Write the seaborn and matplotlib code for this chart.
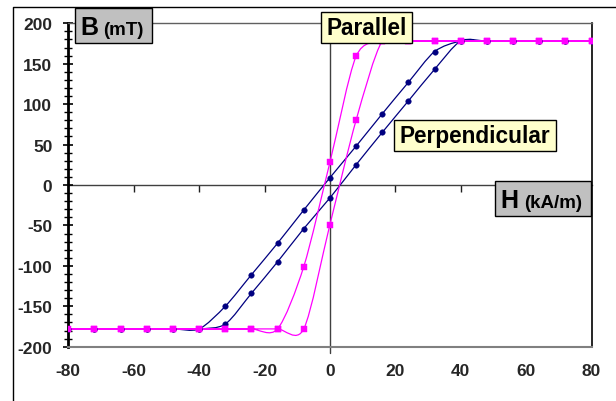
import numpy as np
import pandas as pd
import matplotlib
matplotlib.use("Agg")
import matplotlib.pyplot as plt
import seaborn as sns
from matplotlib.path import Path
from matplotlib.patches import PathPatch, Rectangle
from matplotlib.lines import Line2D
from matplotlib.ticker import MultipleLocator

# ---- data ----
H = list(range(-80, 81, 8))
perp_up = [-178, -178, -178, -178, -178, -178, -172, -134, -95, -54, -16,
           25, 65, 104, 143, 178, 178, 178, 178, 178, 178]
perp_down = [-178, -178, -178, -178, -178, -178, -150, -111, -72, -31, 9,
             48, 88, 127, 165, 178, 178, 178, 178, 178, 178]
par_up = [-178, -178, -178, -178, -178, -178, -178, -178, -178, -178, -49,
          80, 178, 178, 178, 178, 178, 178, 178, 178, 178]
par_down = [-178, -178, -178, -178, -178, -178, -178, -178, -178, -101, 28,
            159, 178, 178, 178, 178, 178, 178, 178, 178, 178]
x_ticks = [-80, -60, -40, -20, 0, 20, 40, 60, 80]
y_ticks = [-200, -150, -100, -50, 0, 50, 100, 150, 200]

NAVY = "#000080"
MAGENTA = "#FF00FF"

sns.set_style("white")
plt.rcParams["font.family"] = ["Liberation Sans", "DejaVu Sans"]
plt.rcParams["font.weight"] = "bold"

W, Hpx = 616, 402
fig = plt.figure(figsize=(W / 100, Hpx / 100), dpi=100)
fig.patch.set_facecolor("white")


def fx(px):
    return px / W


def fy(py):
    return 1 - py / Hpx


ax_l, ax_r, ax_t, ax_b = 68.3, 591.5, 24.3, 347.7
ax = fig.add_axes([fx(ax_l), fy(ax_b), (ax_r - ax_l) / W, (ax_b - ax_t) / Hpx])


def loop_frame(name, up, down):
    xs = H[::-1] + H[1:]
    ys = down[::-1] + up[1:]
    return pd.DataFrame({"H": xs, "B": ys, "series": name})


def smooth_path(xs, ys, k=0.14):
    pts = np.column_stack([xs, ys]).astype(float)
    n = len(pts)
    verts = [pts[0]]
    codes = [Path.MOVETO]
    for i in range(n - 1):
        p0 = pts[i - 1] if i > 0 else pts[i]
        p1 = pts[i]
        p2 = pts[i + 1]
        p3 = pts[i + 2] if i + 2 < n else pts[i + 1]
        c1 = p1 + (p2 - p0) * k
        c2 = p2 - (p3 - p1) * k
        verts += [c1, c2, p2]
        codes += [Path.CURVE4] * 3
    return Path(verts, codes)


perp = loop_frame("Perpendicular", perp_up, perp_down)
par = loop_frame("Parallel", par_up, par_down)

ax.set_xlim(-80, 80)
ax.set_ylim(-200, 200)

# reference line at H = 0
ax.axvline(0, ymin=-0.018, ymax=1, color="#404040", lw=1.0, clip_on=False, zorder=1)

for df, col, mk, s in [(perp, NAVY, "o", 16), (par, MAGENTA, "s", 24)]:
    patch = PathPatch(smooth_path(df["H"], df["B"]), facecolor="none",
                      edgecolor=col, lw=0.9, zorder=2)
    ax.add_patch(patch)
    sns.scatterplot(data=df, x="H", y="B", color=col, marker=mk, s=s,
                    edgecolor=col, linewidth=0.3, ax=ax, zorder=3, legend=False)

ax.set_xlabel("")
ax.set_ylabel("")

# y axis
ax.set_yticks(y_ticks)
ax.set_yticklabels([str(v) for v in y_ticks])
ax.yaxis.set_minor_locator(MultipleLocator(10))
ax.tick_params(axis="y", which="major", direction="inout", length=7, width=1.2,
               color="black", labelsize=12.5, pad=8, left=True)
ax.tick_params(axis="y", which="minor", direction="inout", length=6, width=1.0,
               color="black", left=True)

# x labels at bottom, no ticks there
ax.set_xticks(x_ticks)
ax.set_xticklabels([str(v) for v in x_ticks])
ax.tick_params(axis="x", which="major", length=0, labelsize=12.5, pad=12)

# x axis line at B = 0 with tick marks
sec = ax.secondary_xaxis(0.5)
sec.set_xticks([-60, -40, -20, 20, 40, 60])
sec.tick_params(axis="x", direction="in", length=5, width=1.0, color="#202020",
                labeltop=False, labelbottom=False)
for sp in sec.spines.values():
    sp.set_color("#404040")
    sp.set_linewidth(1.0)

ax.spines["left"].set_color("black")
ax.spines["left"].set_linewidth(2.0)
ax.spines["bottom"].set_color("#808080")
ax.spines["bottom"].set_linewidth(1.5)
ax.spines["top"].set_color("#606060")
ax.spines["top"].set_linewidth(1.0)
ax.spines["right"].set_color("black")
ax.spines["right"].set_linewidth(1.2)

# outer chart frame (partially visible)
fig.add_artist(Line2D([fx(12.7), fx(12.7), fx(620)], [fy(410), fy(8.3), fy(8.3)],
                      transform=fig.transFigure, color="black", lw=1.0))


def box(x0, y0, x1, y1, fc):
    fig.add_artist(Rectangle((fx(x0), fy(y1)), (x1 - x0) / W, (y1 - y0) / Hpx,
                             transform=fig.transFigure, facecolor=fc,
                             edgecolor="black", lw=1.0, zorder=5))


def txt(x, y, s, size, ha="left"):
    fig.text(fx(x), fy(y), s, fontsize=size, fontweight="bold", ha=ha,
             va="baseline", color="black", zorder=6)


# B (mT)
box(74.5, 9.0, 151.5, 44.2, "#C0C0C0")
txt(80.0, 34.8, "B", 18)
txt(103.0, 35.0, "(mT)", 13.5)

# H (kA/m)
box(494.8, 181.5, 590.8, 217.3, "#C0C0C0")
txt(500.5, 208.5, "H", 18)
txt(524.0, 208.5, "(kA/m)", 13.5)

# Parallel
box(320.8, 12.7, 411.6, 44.2, "#FFFFCC")
txt(366.2, 35.0, "Parallel", 16.3, ha="center")

# Perpendicular
box(394.0, 120.7, 556.0, 152.3, "#FFFFCC")
txt(475.0, 142.7, "Perpendicular", 16.3, ha="center")

fig.savefig("out.png", dpi=100, facecolor="white")
